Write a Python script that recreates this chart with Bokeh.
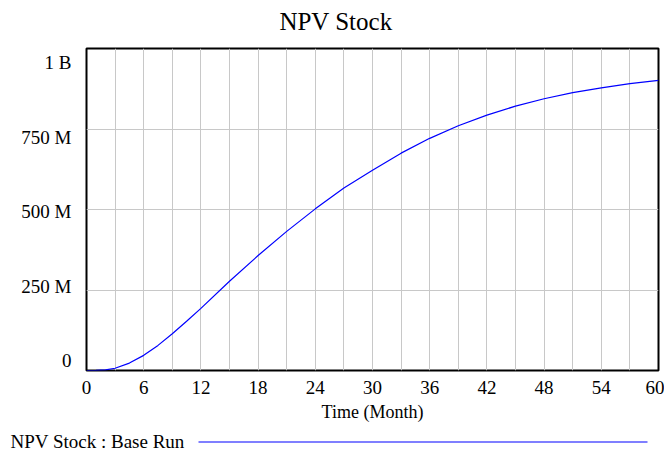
from bokeh.plotting import figure
from bokeh.models import Range1d, FixedTicker, Label, BoxAnnotation
from bokeh.layouts import column
from bokeh.embed import file_html
from bokeh.resources import INLINE

# ---- data ----
months = [0, 1, 2, 3, 4.5, 6, 7.5, 9, 10.5, 12, 15, 18, 21, 24, 27, 30,
          33, 36, 39, 42, 45, 48, 51, 54, 57, 60]
npv_millions = [0, 0.3, 2, 7, 23, 47, 78, 114, 153, 193, 277, 357, 432, 502,
                567, 622, 675, 721, 760, 793, 821, 844, 863, 878, 891, 901]
x_tick_values = [0, 6, 12, 18, 24, 30, 36, 42, 48, 54, 60]
x_grid_values = list(range(0, 61, 3))
y_grid_values = [0, 250e6, 500e6, 750e6, 1e9]
y_tick_labels = ["0", "250 M", "500 M", "750 M", "1 B"]
title_text = "NPV Stock"
x_label = "Time (Month)"
legend_text = "NPV Stock : Base Run"

npv = [v * 1e6 for v in npv_millions]

FONT = "Liberation Serif"
W = 664


def strip(height):
    """A plain strip (pixel-unit ranges) used for the title and the legend."""
    s = figure(width=W, height=height, x_range=Range1d(0, W),
               y_range=Range1d(0, height), output_backend="svg",
               toolbar_location=None, min_border=0,
               x_axis_type=None, y_axis_type=None)
    s.frame_align = False
    s.grid.visible = False
    s.outline_line_color = None
    s.background_fill_color = "white"
    s.border_fill_color = "white"
    return s


# title strip
top = strip(46)
top.add_layout(Label(x=335.5, y=25, text=title_text, text_align="center",
                     text_baseline="middle", text_font=FONT,
                     text_font_size="25px", text_color="black"))

# main chart
p = figure(width=W, height=380,
           x_range=Range1d(0, 60), y_range=Range1d(0, 1e9),
           output_backend="svg", toolbar_location=None,
           min_border_left=86, min_border_right=6,
           min_border_top=2, min_border_bottom=56)
p.frame_align = False
p.background_fill_color = "white"
p.border_fill_color = "white"
p.outline_line_color = "black"
p.outline_line_width = 2

# grid
p.xgrid.ticker = FixedTicker(ticks=x_grid_values)
p.ygrid.ticker = FixedTicker(ticks=y_grid_values)
p.grid.grid_line_color = "#c8c8c8"
p.grid.grid_line_width = 1

# x axis
p.xaxis.ticker = FixedTicker(ticks=x_tick_values)
p.xaxis.axis_label = x_label
p.xaxis.axis_label_text_font = FONT
p.xaxis.axis_label_text_font_size = "18px"
p.xaxis.axis_label_text_font_style = "normal"
p.xaxis.axis_label_text_color = "black"
p.xaxis.axis_label_standoff = 5
p.xaxis.major_label_standoff = 10

# y axis: labels spread evenly between slightly inset positions (Vensim style)
span = 1e9
top_pos = span * (1 - 14 / 322)
bot_pos = span * (10 / 322)
label_pos = [int(round(bot_pos + i * (top_pos - bot_pos) / 4)) for i in range(5)]
p.yaxis.ticker = FixedTicker(ticks=label_pos)
p.yaxis.major_label_overrides = {pos: lab for pos, lab in zip(label_pos, y_tick_labels)}
p.yaxis.major_label_standoff = 15

for ax in (p.xaxis, p.yaxis):
    ax.axis_line_color = None
    ax.major_tick_line_color = None
    ax.minor_tick_line_color = None
    ax.major_tick_out = 0
    ax.major_tick_in = 0
    ax.major_label_text_font = FONT
    ax.major_label_text_font_size = "19px"
    ax.major_label_text_color = "black"

# curve
p.line(months, npv, line_color="#0000ff", line_width=1.2)

# legend strip (text, then line sample)
leg = strip(30)
leg.add_layout(Label(x=10, y=15, text=legend_text, text_align="left",
                     text_baseline="middle", text_font=FONT,
                     text_font_size="19px", text_color="black"))
leg.add_layout(BoxAnnotation(left=198, right=647, top=15, bottom=14,
                             fill_color="#0000ff", fill_alpha=1, line_color=None))

layout = column(top, p, leg, spacing=0)
open("out.html", "w").write(file_html(layout, INLINE))
